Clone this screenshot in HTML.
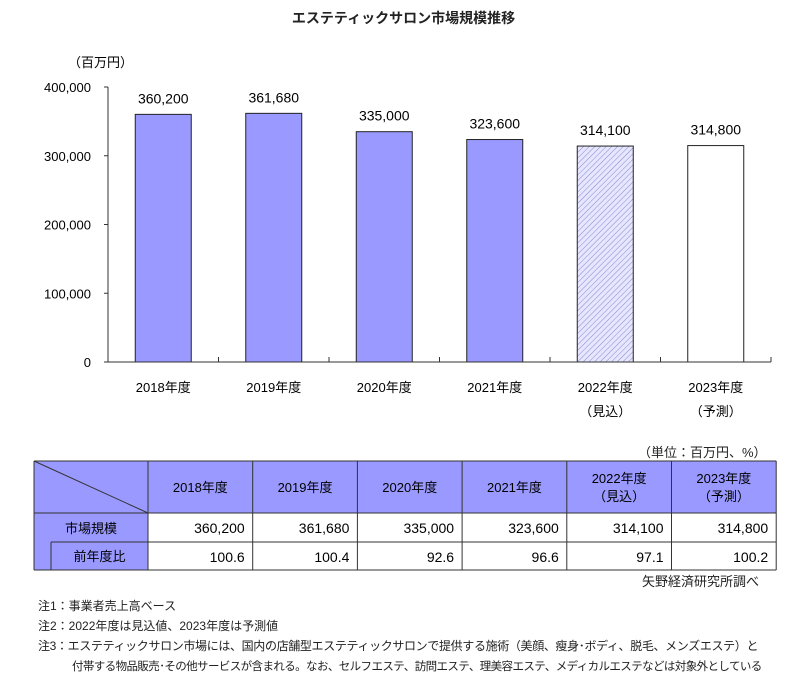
<!DOCTYPE html>
<html><head><meta charset="utf-8">
<style>
body{margin:0;background:#fff;font-family:"Liberation Sans","Noto Sans CJK JP",sans-serif;color:#222;}
#wrap{position:relative;width:807px;height:685px;overflow:hidden;}
.t{position:absolute;white-space:nowrap;}
</style></head><body>
<div id="wrap">
<div class="t" style="left:0;width:807px;top:8px;text-align:center;font-size:14px;font-weight:bold;">エステティックサロン市場規模推移</div>
<svg id="chart" width="807" height="440" style="position:absolute;left:0;top:0"></svg>
<div class="t" style="left:638px;top:442px;font-size:13px;">（単位：百万円、%）</div>
<div class="t" style="left:642px;top:571px;font-size:13px;">矢野経済研究所調べ</div>
<div class="t" style="left:38px;top:596px;font-size:12px;line-height:20px;">注1：事業者売上高ベース<br>注2：2022年度は見込値、2023年度は予測値<br><span style="letter-spacing:-0.35px">注3：エステティックサロン市場には、国内の店舗型エステティックサロンで提供する施術（美顔、瘦身･ボディ、脱毛、メンズエステ）と</span><br><span style="display:inline-block;margin-left:34px;letter-spacing:-0.6px;font-size:11.5px">付帯する物品販売･その他サービスが含まれる。なお、セルフエステ、訪問エステ、理美容エステ、メディカルエステなどは対象外としている</span></div>
</div>
<script>
const categories=["2018年度","2019年度","2020年度","2021年度","2022年度","2023年度"];
const subLabels=["","","","","（見込）","（予測）"];
const values=[360200,361680,335000,323600,314100,314800];
const valueLabels=["360,200","361,680","335,000","323,600","314,100","314,800"];
const growth=["100.6","100.4","92.6","96.6","97.1","100.2"];
const headerLabels=["2018年度","2019年度","2020年度","2021年度","2022年度<br>（見込）","2023年度<br>（予測）"];
const yTicks=[0,100000,200000,300000,400000];
const yTickLabels=["0","100,000","200,000","300,000","400,000"];

const NS="http://www.w3.org/2000/svg";
const svg=document.getElementById('chart');
const x0=108,cw=110.5,y0=362,yTop=87,yMax=400000;
const y=v=>y0-(v/yMax)*(y0-yTop);
const xc=i=>x0+cw*(i+0.5);
function mk(tag,attrs,txt){const e=document.createElementNS(NS,tag);for(const k in attrs)e.setAttribute(k,attrs[k]);if(txt!=null)e.textContent=txt;svg.appendChild(e);return e;}
svg.innerHTML='<defs><pattern id="hatch" width="4" height="4" patternUnits="userSpaceOnUse" patternTransform="rotate(45)"><rect width="4" height="4" fill="#e6e6ff"/><line x1="0" y1="0" x2="0" y2="4" stroke="#8888cc" stroke-width="1"/></pattern></defs>';
let e=mk('text',{x:68,y:67,'font-size':13},'（百万円）');


yTicks.forEach((t,i)=>{
  let l=mk('line',{x1:x0-4,x2:x0,y1:y(t),y2:y(t),stroke:'#333'});
  
  
  let tx=mk('text',{x:91,y:y(t)+5,'text-anchor':'end','font-size':13},yTickLabels[i]);
  
  
});
values.forEach((v,i)=>{
  const fill=i<4?'#9999ff':(i==4?'url(#hatch)':'#fff');
  let r=mk('rect',{x:xc(i)-28,y:y(v),width:56,height:y0-y(v),fill:fill,stroke:'#222','stroke-width':1});
  
  
  let t=mk('text',{x:xc(i),y:y(v)-11,'text-anchor':'middle','font-size':14},valueLabels[i]);
  
  
  let c=mk('text',{x:xc(i),y:392,'text-anchor':'middle','font-size':13},categories[i]);
  
  
  if(subLabels[i]){let s=mk('text',{x:xc(i),y:416,'text-anchor':'middle','font-size':13},subLabels[i]);
  
  }
  let tk=mk('line',{x1:x0+cw*(i+1),x2:x0+cw*(i+1),y1:y0,y2:y0-5,stroke:'#333'});
  
  
});
let ax=mk('line',{x1:x0,x2:x0,y1:yTop,y2:y0,stroke:'#333'});


let bx=mk('line',{x1:x0,x2:x0+cw*6,y1:y0,y2:y0,stroke:'#333'});



// table
const wrap=document.getElementById('wrap');
const T=document.createElementNS(NS,'svg');
T.setAttribute('width',807);T.setAttribute('height',130);
T.style.cssText='position:absolute;left:0;top:455px';


wrap.appendChild(T);
const tx0=34,c1=148,dw=104.7,r0=6,r1=58,r2=87,r3=115;
function tm(tag,a,txt){const el=document.createElementNS(NS,tag);for(const k in a)el.setAttribute(k,a[k]);if(txt!=null)el.textContent=txt;T.appendChild(el);return el;}
tm('rect',{x:tx0,y:r0,width:c1+dw*6-tx0,height:r1-r0,fill:'#9999ff'});
tm('rect',{x:tx0,y:r1,width:c1-tx0,height:r3-r1,fill:'#9999ff'});
tm('line',{x1:tx0,y1:r0,x2:c1,y2:r1,stroke:'#333'});
[r0,r1,r3].forEach(yy=>tm('line',{x1:tx0,x2:c1+dw*6,y1:yy,y2:yy,stroke:'#333'}));
tm('line',{x1:tx0+17,x2:c1+dw*6,y1:r2,y2:r2,stroke:'#333'});
tm('line',{x1:tx0,x2:tx0,y1:r0,y2:r3,stroke:'#333'});
tm('line',{x1:tx0+17,x2:tx0+17,y1:r2,y2:r3,stroke:'#333'});
for(let i=0;i<=6;i++)tm('line',{x1:c1+dw*i,x2:c1+dw*i,y1:r0,y2:r3,stroke:'#333'});
let ra=tm('text',{x:(tx0+c1)/2,y:r1+20,'text-anchor':'middle','font-size':13},'市場規模');


let rb=tm('text',{x:(tx0+17+c1)/2,y:r2+19,'text-anchor':'middle','font-size':13},'前年度比');


headerLabels.forEach((h,i)=>{
  const parts=h.split('<br>');const cx=c1+dw*(i+0.5);
  parts.forEach((p,j)=>{let ht=tm('text',{x:cx,y:(parts.length==1?r0+31:r0+22+j*18),'text-anchor':'middle','font-size':13},p);
  
  });
  let v=tm('text',{x:c1+dw*(i+1)-8,y:r1+20,'text-anchor':'end','font-size':14},valueLabels[i]);
  
  
  let g=tm('text',{x:c1+dw*(i+1)-8,y:r2+20,'text-anchor':'end','font-size':14},growth[i]);
  
  
});
</script>
</body></html>
